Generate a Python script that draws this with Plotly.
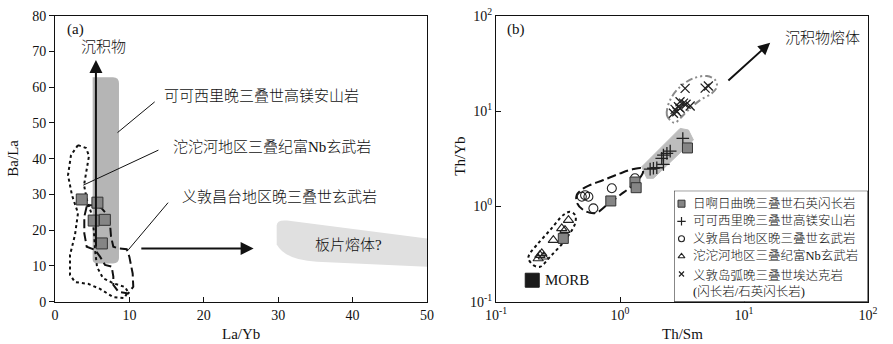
import numpy as np
import plotly.graph_objects as go

# ---------------- Data: panel (a) ----------------
a_sq_x = [3.6, 5.7, 5.2, 6.7, 6.3]          # La/Yb, 日啊日曲
a_sq_y = [28.6, 27.7, 22.7, 22.9, 16.3]     # Ba/La

# 沱沱河 (dotted) contour
tt_x = [3.09, 4.17, 4.57, 4.17, 3.90, 4.30, 4.97, 5.24, 5.38, 5.65, 6.45, 7.80, 9.41, 9.81,
        9.27, 7.80, 6.05, 4.44, 2.69, 2.02, 2.02, 2.69, 3.09, 2.28, 1.75, 2.15, 3.09]
tt_y = [43.8, 43.0, 40.8, 36.3, 32.6, 28.4, 24.2, 19.5, 14.5, 9.7, 6.6, 5.2, 4.1, 2.7,
        1.0, 1.3, 3.6, 5.0, 5.5, 7.5, 13.1, 18.7, 24.8, 29.8, 35.4, 41.0, 43.8]
# 义敦昌台 (dashed) contour
yd_x = [4.26, 3.94, 3.94, 4.26, 5.38, 6.05, 6.72, 7.62, 7.84, 7.84, 8.51, 9.85, 10.52, 10.44,
        9.99, 9.64, 8.51, 7.84, 7.53, 7.39, 7.03, 6.28, 5.38, 4.48, 4.26]
yd_y = [26.6, 23.8, 19.1, 15.4, 14.5, 12.6, 10.3, 9.8, 7.0, 4.7, 2.8, 2.3, 4.2, 7.9,
        12.6, 14.7, 14.9, 15.4, 18.2, 21.9, 24.3, 26.1, 27.0, 27.0, 26.6]

# ---------------- Data: panel (b) ----------------
b_sq_x = [3.50, 1.32, 1.35, 0.843, 0.349]      # Th/Sm
b_sq_y = [4.10, 1.80, 1.57, 1.14, 0.461]       # Th/Yb
b_pl_x = [3.21, 2.54, 2.39, 2.24, 2.17, 2.24, 1.86, 1.75, 1.98]
b_pl_y = [5.16, 3.80, 3.60, 3.45, 3.19, 2.76, 2.51, 2.46, 2.54]
b_ci_x = [0.523, 0.556, 0.492, 0.61, 0.859, 1.32]
b_ci_y = [1.31, 1.26, 1.26, 0.953, 1.55, 1.97]
b_tr_x = [0.384, 0.339, 0.36, 0.29, 0.226, 0.241, 0.219, 0.234]
b_tr_y = [0.718, 0.587, 0.564, 0.443, 0.308, 0.296, 0.284, 0.321]
b_x_x = [3.35, 5.16, 4.86, 3.05, 3.25, 3.68, 2.96, 2.78, 2.87, 2.70, 3.05, 3.41]
b_x_y = [17.3, 18.3, 17.4, 12.5, 12.1, 11.3, 11.1, 10.4, 9.84, 9.46, 10.7, 11.8]
morb_x = [0.196]
morb_y = [0.168]

# contours in log10 units (panel b)
band_lx = [0.176, 0.216, 0.270, 0.592, 0.552, 0.485, 0.176]
band_ly = [0.416, 0.294, 0.294, 0.696, 0.801, 0.818, 0.416]
tri_lx = [-0.739, -0.699, -0.645, -0.564, -0.443, -0.362, -0.362, -0.403, -0.457, -0.564, -0.672, -0.726, -0.739]
tri_ly = [-0.546, -0.616, -0.634, -0.529, -0.354, -0.178, -0.091, -0.057, -0.091, -0.249, -0.406, -0.493, -0.546]
cir_lx = [-0.349, -0.295, -0.241, -0.134, 0.001, 0.108, 0.176, 0.186, 0.122, 0.001, -0.107, -0.174, -0.215, -0.295, -0.346, -0.349]
cir_ly = [0.119, 0.189, 0.224, 0.276, 0.346, 0.391, 0.399, 0.36, 0.245, 0.119, 0.014, -0.057, -0.073, -0.039, 0.035, 0.119]
xs_lx = [0.418, 0.378, 0.404, 0.485, 0.592, 0.701, 0.768, 0.781, 0.741, 0.646, 0.552, 0.485, 0.445, 0.418]
xs_ly = [0.888, 0.958, 1.115, 1.255, 1.343, 1.367, 1.325, 1.255, 1.186, 1.115, 1.011, 0.923, 0.877, 0.888]

legend_labels = ["日啊日曲晚三叠世石英闪长岩", "可可西里晚三叠世高镁安山岩", "义敦昌台地区晚三叠世玄武岩",
                 "沱沱河地区三叠纪富Nb玄武岩", "义敦岛弧晚三叠世埃达克岩<br>(闪长岩/石英闪长岩)"]

W, H = 893, 344
FONT = "Liberation Serif, Noto Sans CJK SC, serif"
def px(x):
    return x / W
def py(y):
    return 1 - y / H

p = lambda v: (10 ** np.array(v)).tolist()

fig = go.Figure()

# ---- panel (a) ----
fig.add_trace(go.Scatter(x=tt_x, y=tt_y, mode="lines", line=dict(color="#111", width=2, dash="dot"),
                         showlegend=False, xaxis="x", yaxis="y", hoverinfo="skip"))
fig.add_trace(go.Scatter(x=yd_x, y=yd_y, mode="lines", line=dict(color="#111", width=2, dash="9px,4px"),
                         showlegend=False, xaxis="x", yaxis="y", hoverinfo="skip"))
fig.add_trace(go.Scatter(x=a_sq_x, y=a_sq_y, mode="markers",
                         marker=dict(symbol="square", size=11, color="#858585", line=dict(color="#333", width=1)),
                         showlegend=False, xaxis="x", yaxis="y"))

# ---- panel (b) ----
fig.add_trace(go.Scatter(x=p(band_lx), y=p(band_ly), mode="lines", fill="toself", fillcolor="#bdbdbd",
                         line=dict(color="#bdbdbd", width=1), showlegend=False, xaxis="x2", yaxis="y2", hoverinfo="skip"))
fig.add_trace(go.Scatter(x=p(tri_lx), y=p(tri_ly), mode="lines", line=dict(color="#111", width=2, dash="dot", shape="spline"),
                         showlegend=False, xaxis="x2", yaxis="y2", hoverinfo="skip"))
fig.add_trace(go.Scatter(x=p(cir_lx), y=p(cir_ly), mode="lines", line=dict(color="#111", width=2, dash="9px,4px", shape="spline"),
                         showlegend=False, xaxis="x2", yaxis="y2", hoverinfo="skip"))
fig.add_trace(go.Scatter(x=p(xs_lx), y=p(xs_ly), mode="lines",
                         line=dict(color="#8a8a8a", width=2, dash="7px,3px,2px,3px,2px,3px", shape="spline"),
                         showlegend=False, xaxis="x2", yaxis="y2", hoverinfo="skip"))
fig.add_trace(go.Scatter(x=b_pl_x, y=b_pl_y, mode="markers",
                         marker=dict(symbol="cross-thin", size=9, line=dict(color="#222", width=1.3)),
                         showlegend=False, xaxis="x2", yaxis="y2"))
fig.add_trace(go.Scatter(x=b_ci_x, y=b_ci_y, mode="markers",
                         marker=dict(symbol="circle-open", size=9, color="#222", line=dict(width=1.1)),
                         showlegend=False, xaxis="x2", yaxis="y2"))
fig.add_trace(go.Scatter(x=b_tr_x, y=b_tr_y, mode="markers",
                         marker=dict(symbol="triangle-up-open", size=9, color="#222", line=dict(width=1.1)),
                         showlegend=False, xaxis="x2", yaxis="y2"))
fig.add_trace(go.Scatter(x=b_x_x, y=b_x_y, mode="markers",
                         marker=dict(symbol="x-thin", size=9, line=dict(color="#222", width=1.3)),
                         showlegend=False, xaxis="x2", yaxis="y2"))
fig.add_trace(go.Scatter(x=b_sq_x, y=b_sq_y, mode="markers",
                         marker=dict(symbol="square", size=10, color="#858585", line=dict(color="#333", width=1)),
                         showlegend=False, xaxis="x2", yaxis="y2"))
fig.add_trace(go.Scatter(x=morb_x, y=morb_y, mode="markers",
                         marker=dict(symbol="square", size=14, color="#1a1a1a", line=dict(color="#1a1a1a", width=1)),
                         showlegend=False, xaxis="x2", yaxis="y2"))

# ---- manual legend (panel b) ----
leg_rows = [13, 30.6, 48, 65.6, 83.3]
leg_styles = [dict(symbol="square", size=7, color="#858585", line=dict(color="#333", width=1)),
              dict(symbol="cross-thin", size=6, line=dict(color="#222", width=1.2)),
              dict(symbol="circle-open", size=6, color="#222", line=dict(width=1.1)),
              dict(symbol="triangle-up-open", size=6, color="#222", line=dict(width=1.1)),
              dict(symbol="x-thin", size=5, line=dict(color="#222", width=1.2))]
for r, st in zip(leg_rows, leg_styles):
    fig.add_trace(go.Scatter(x=[7.5], y=[r], mode="markers", marker=st, showlegend=False,
                             xaxis="x3", yaxis="y3", hoverinfo="skip"))

shapes = []
shapes.append(dict(type="path", xref="x", yref="y", layer="below",
                   path="M 5.06,11.9 L 5.06,62.8 L 7.8,62.8 Q 8.6,62.8 8.6,61.0 L 8.6,12.2 Q 8.6,10.7 7.8,10.7 L 5.8,10.7 Q 5.06,10.7 5.06,11.9 Z",
                   fillcolor="#b5b5b5", line=dict(width=0)))
shapes.append(dict(type="path", xref="x", yref="y", layer="below",
                   path="M 29.8,21.3 Q 29.8,23.0 31.2,22.7 L 50,17.7 L 50,9.8 L 35.2,11.2 Q 31.0,11.6 29.8,16.0 Z",
                   fillcolor="#e0e0e0", line=dict(width=0)))
for (x0, y0, x1, y1) in [(13.4, 55.9, 8.4, 47.3), (13.9, 42.4, 3.8, 32.6), (15.2, 27.7, 9.85, 14.5)]:
    shapes.append(dict(type="line", xref="x", yref="y", x0=x0, y0=y0, x1=x1, y1=y1,
                       line=dict(color="#111", width=1)))
shapes.append(dict(type="rect", xref="x3", yref="y3", x0=0, y0=0, x1=194, y1=111,
                   line=dict(color="#111", width=1), fillcolor="rgba(0,0,0,0)"))

ann = []
def text(x, y, s, size=15, xref="x", yref="y", xanchor="center", yanchor="middle", weight=None, **kw):
    f = dict(family=FONT, size=size, color="#111")
    if weight:
        f["weight"] = weight
    ann.append(dict(x=x, y=y, text=s, xref=xref, yref=yref, showarrow=False, xanchor=xanchor,
                    yanchor=yanchor, font=f, **kw))

# panel a texts
text(2.8, 76.2, "(a)", 15)
text(6.5, 71.3, "沉积物", 15, weight=300)
text(27.8, 57.6, "可可西里晚三叠世高镁安山岩", 15, weight=300)
text(29.1, 43.4, "沱沱河地区三叠纪富Nb玄武岩", 15, weight=300)
text(30.2, 29.4, "义敦昌台地区晚三叠世玄武岩", 15, weight=300)
text(39.4, 15.9, "板片熔体?", 15, weight=300)
for (x, y, ax, ay) in [(5.5, 67.6, 5.5, 15.0), (26.7, 14.9, 11.4, 14.9)]:
    ann.append(dict(x=x, y=y, ax=ax, ay=ay, xref="x", yref="y", axref="x", ayref="y", text="",
                    showarrow=True, arrowhead=2, arrowsize=1.3, arrowwidth=2, arrowcolor="#111"))
# panel b texts (log coordinates)
text(-0.84, 1.86, "(b)", 15, xref="x2", yref="y2")
text(1.637, 1.763, "沉积物熔体", 15, xref="x2", yref="y2", weight=300)
text(-0.62, -0.77, "MORB", 15, xref="x2", yref="y2", xanchor="left")
ann.append(dict(x=1.211, y=1.717, ax=0.862, ay=1.307, xref="x2", yref="y2", axref="x2", ayref="y2",
                text="", showarrow=True, arrowhead=2, arrowsize=1.2, arrowwidth=2, arrowcolor="#111"))
for r, s in zip(leg_rows[:4], legend_labels[:4]):
    text(16.5, r, s, 12.5, xref="x3", yref="y3", xanchor="left", weight=300)
text(16.5, leg_rows[4] - 8.5, legend_labels[4], 12.5, xref="x3", yref="y3", xanchor="left",
     yanchor="top", weight=300, align="left")

# axis titles
text(px(241), py(334), "La/Yb", 15, xref="paper", yref="paper")
text(px(13), py(158.7), "Ba/La", 15, xref="paper", yref="paper", textangle=-90)
text(px(682), py(334), "Th/Sm", 15, xref="paper", yref="paper")
text(px(460), py(156.7), "Th/Yb", 15, xref="paper", yref="paper", textangle=-90)

ydom = [py(301.7), py(15.7)]
axis_common = dict(showline=True, linecolor="#111", linewidth=1, mirror=True, showgrid=False,
                   zeroline=False, ticklen=5, tickcolor="#111", tickwidth=1, automargin=False,
                   tickfont=dict(family=FONT, size=14, color="#111"))
dec_vals = [0.1, 1, 10, 100]
dec_text = ["10<sup>-1</sup>", "10<sup>0</sup>", "10<sup>1</sup>", "10<sup>2</sup>"]

fig.update_layout(
    width=W, height=H, margin=dict(l=0, r=0, t=0, b=0, pad=0, autoexpand=False),
    paper_bgcolor="white", plot_bgcolor="white",
    xaxis=dict(domain=[px(55), px(427)], range=[0, 50], tickvals=[0, 10, 20, 30, 40, 50],
               ticks="inside", anchor="y", **axis_common),
    yaxis=dict(domain=ydom, range=[0, 80], tickvals=[0, 10, 20, 30, 40, 50, 60, 70, 80],
               ticks="outside", anchor="x", **axis_common),
    xaxis2=dict(domain=[px(496), px(868)], type="log", range=[-1, 2], tickvals=dec_vals, ticktext=dec_text,
                ticks="inside", anchor="y2", **axis_common),
    yaxis2=dict(domain=ydom, type="log", range=[-1, 2], tickvals=dec_vals, ticktext=dec_text,
                ticks="inside", anchor="x2", **axis_common),
    xaxis3=dict(domain=[px(674), px(868)], range=[0, 194], visible=False, anchor="y3", automargin=False),
    yaxis3=dict(domain=[py(301.7), py(190.7)], range=[111, 0], visible=False, anchor="x3", automargin=False),
    shapes=shapes, annotations=ann, showlegend=False,
)

fig.write_html("out.html", config={"displayModeBar": False},
               post_script="document.body.style.margin='0';document.body.style.overflow='hidden';")
